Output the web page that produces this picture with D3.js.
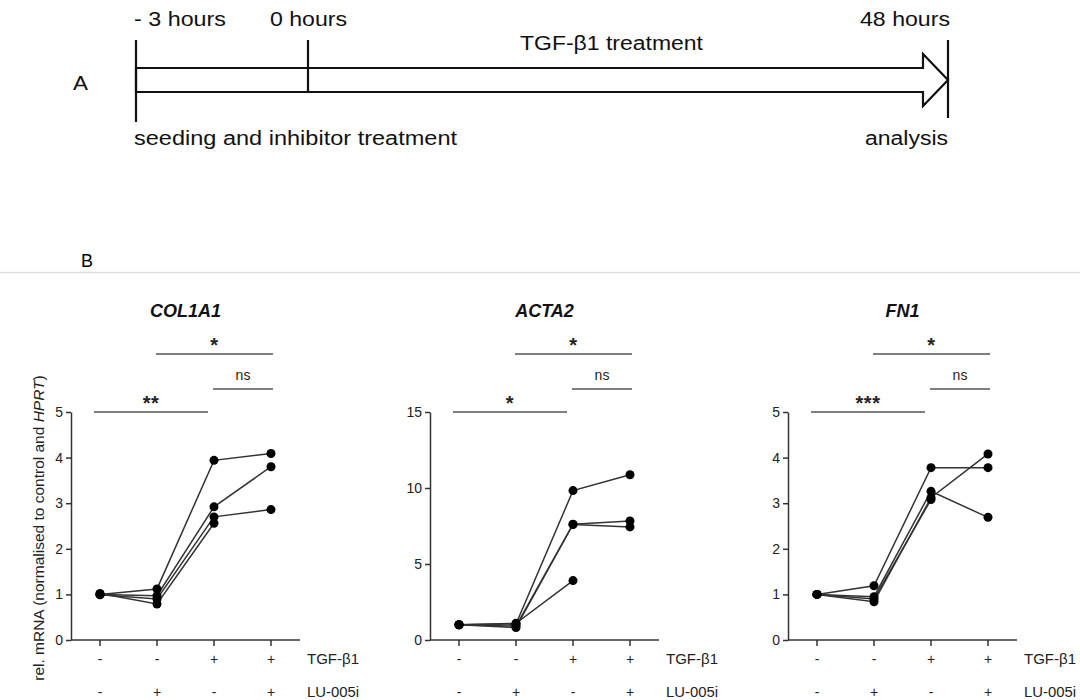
<!DOCTYPE html>
<html>
<head>
<meta charset="utf-8">
<script src="https://d3js.org/d3.v7.min.js"></script>
<style>
  body { margin: 0; background: #fff; }
  svg { font-family: "Liberation Sans", Arial, sans-serif; }
  .axis path, .axis line { stroke: #333; stroke-width: 1.5; }
  .axis text { font-size: 14px; fill: #222; }
</style>
</head>
<body>
<svg id="fig" width="1080" height="700"></svg>
<script>
// categories (4 conditions), TGF-b1 / LU-005i signs
const conditions = ["c1", "c2", "c3", "c4"];
const tgfSigns = ["-", "-", "+", "+"];
const luSigns = ["-", "+", "-", "+"];

// donor values per gene (null = not measured)
const col1a1 = [
  [1.00, 1.12, 3.94, 4.09],
  [1.00, 0.97, 2.92, 3.80],
  [0.99, 0.90, 2.70, 2.86],
  [1.02, 0.79, 2.56, null]
];
const acta2 = [
  [1.00, 1.05, 9.83, 10.87],
  [1.00, 0.92, 7.62, 7.83],
  [1.00, 0.82, 7.60, 7.44],
  [1.00, 1.10, 3.91, null]
];
const fn1 = [
  [1.00, 1.19, 3.78, 3.78],
  [1.00, 0.95, 3.26, 2.69],
  [1.00, 0.84, 3.12, 4.08],
  [1.00, 0.90, 3.08, null]
];

const genes = ["COL1A1", "ACTA2", "FN1"];
const geneData = [col1a1, acta2, fn1];
const yMax = [5, 15, 5];
const yTicks = [[0, 1, 2, 3, 4, 5], [0, 5, 10, 15], [0, 1, 2, 3, 4, 5]];
// significance: [from, to, label, level]
const sigs = [
  [[1, 3, "*", 0], [2, 3, "ns", 1], [0, 2, "**", 2]],
  [[1, 3, "*", 0], [2, 3, "ns", 1], [0, 2, "*", 2]],
  [[1, 3, "*", 0], [2, 3, "ns", 1], [0, 2, "***", 2]]
];
const panelLeft = [71, 430, 788];

const svg = d3.select("#fig");

// ---- Panel A: timeline ----
const tl = svg.append("g");
const tScale = d3.scaleLinear().domain([-3, 0]).range([136, 308]);
const xEnd = 948, shaftTop = 68, shaftBot = 92, headX = 923;

tl.append("path")
  .attr("d", `M${tScale(-3)},${shaftTop} H${headX} V${shaftTop - 14} L${xEnd},80 L${headX},${shaftBot + 14} V${shaftBot} H${tScale(-3)} Z`)
  .attr("fill", "none").attr("stroke", "#111").attr("stroke-width", 2.2);
tl.append("line").attr("x1", tScale(-3)).attr("x2", tScale(-3)).attr("y1", 40).attr("y2", 122)
  .attr("stroke", "#111").attr("stroke-width", 2.2);
tl.append("line").attr("x1", tScale(0)).attr("x2", tScale(0)).attr("y1", 40).attr("y2", shaftBot)
  .attr("stroke", "#111").attr("stroke-width", 2.2);
tl.append("line").attr("x1", xEnd).attr("x2", xEnd).attr("y1", 40).attr("y2", 118)
  .attr("stroke", "#111").attr("stroke-width", 2.2);

// text, x, baseline, anchor, width
const tText = [
  ["A", 73, 90, "start", 15],
  ["- 3 hours", 134, 26, "start", 92],
  ["0 hours", 270, 26, "start", 77],
  ["48 hours", 860, 26, "start", 90],
  ["TGF-β1 treatment", 520, 50, "start", 183],
  ["seeding and inhibitor treatment", 134, 145, "start", 323],
  ["analysis", 865, 145, "start", 83]
];
tl.selectAll("text.t").data(tText).enter().append("text")
  .attr("class", "t")
  .attr("x", d => d[1]).attr("y", d => d[2])
  .attr("font-size", 20).attr("fill", "#111")
  .attr("textLength", d => d[4]).attr("lengthAdjust", "spacingAndGlyphs")
  .text(d => d[0]);

// ---- Panel B ----
svg.append("text").attr("x", 81).attr("y", 267).attr("font-size", 18)
  .attr("textLength", 12).attr("lengthAdjust", "spacingAndGlyphs").text("B");
svg.append("line").attr("x1", 0).attr("x2", 1080).attr("y1", 272.5).attr("y2", 272.5)
  .attr("stroke", "#ddd").attr("stroke-width", 1.5);

// y-axis label
const yl = svg.append("text")
  .attr("transform", "translate(44,528) rotate(-90)")
  .attr("text-anchor", "middle").attr("font-size", 15.5).attr("fill", "#222");
yl.append("tspan").text("rel. mRNA (normalised to control and ");
yl.append("tspan").attr("font-style", "italic").text("HPRT");
yl.append("tspan").text(")");

const plotTop = 412, plotBot = 640;

genes.forEach((gene, gi) => {
  const left = panelLeft[gi];
  const right = left + 229;
  const x = d3.scalePoint().domain(conditions).range([left + 29, left + 200]);
  const y = d3.scaleLinear().domain([0, yMax[gi]]).range([plotBot, plotTop]);
  const g = svg.append("g");

  // title
  g.append("text").attr("x", (left + right) / 2).attr("y", 317)
    .attr("text-anchor", "middle").attr("font-size", 18)
    .attr("font-weight", "bold").attr("font-style", "italic").attr("fill", "#111")
    .text(gene);

  // y axis
  g.append("g").attr("class", "axis")
    .attr("transform", `translate(${left},0)`)
    .call(d3.axisLeft(y).tickValues(yTicks[gi]).tickFormat(d3.format("d"))
      .tickSize(5).tickPadding(3).tickSizeOuter(0));

  // x axis
  const xa = g.append("g").attr("class", "axis")
    .attr("transform", `translate(0,${plotBot})`);
  xa.append("line").attr("x1", left).attr("x2", right).attr("y1", 0).attr("y2", 0);
  xa.selectAll("line.tk").data(conditions).enter().append("line")
    .attr("class", "tk")
    .attr("x1", d => x(d)).attr("x2", d => x(d)).attr("y1", 0).attr("y2", 6);

  // sign rows
  [tgfSigns, luSigns].forEach((signs, ri) => {
    g.selectAll(null).data(conditions).enter().append("text")
      .attr("x", (d) => x(d)).attr("y", 664 + ri * 33)
      .attr("text-anchor", "middle").attr("font-size", 14).attr("fill", "#222")
      .text((d, i) => signs[i]);
  });
  ["TGF-β1", "LU-005i"].forEach((lab, ri) => {
    g.append("text").attr("x", right + 7).attr("y", 664 + ri * 33)
      .attr("font-size", 14).attr("fill", "#222")
      .attr("textLength", 52).attr("lengthAdjust", "spacingAndGlyphs")
      .text(lab);
  });

  // significance bars
  const sigY = [354, 389, 412];
  sigs[gi].forEach(s => {
    const x1 = x(conditions[s[0]]) - (s[3] === 2 ? 6 : 1);
    const x2 = x(conditions[s[1]]) + (s[3] === 2 ? -6 : 2);
    const yy = sigY[s[3]];
    g.append("line").attr("x1", x1).attr("x2", x2).attr("y1", yy).attr("y2", yy)
      .attr("stroke", "#555").attr("stroke-width", 1.6);
    const isNs = s[2] === "ns";
    g.append("text").attr("x", (x1 + x2) / 2).attr("y", isNs ? yy - 9 : yy - 2)
      .attr("text-anchor", "middle")
      .attr("font-size", isNs ? 14 : 20)
      .attr("font-weight", isNs ? "normal" : "bold")
      .attr("letter-spacing", isNs ? 0 : 0.5)
      .attr("fill", "#222")
      .text(s[2]);
  });

  // donor lines and points
  const line = d3.line()
    .defined(d => d.v !== null)
    .x(d => x(d.c)).y(d => y(d.v));
  const donors = geneData[gi].map(vals => vals.map((v, i) => ({ c: conditions[i], v: v })));

  g.selectAll("path.donor").data(donors).enter().append("path")
    .attr("class", "donor")
    .attr("d", line)
    .attr("fill", "none").attr("stroke", "#333").attr("stroke-width", 1.5);

  g.selectAll("circle").data(donors.flat().filter(d => d.v !== null)).enter().append("circle")
    .attr("cx", d => x(d.c)).attr("cy", d => y(d.v)).attr("r", 4.5)
    .attr("fill", "#000");
});
</script>
</body>
</html>
